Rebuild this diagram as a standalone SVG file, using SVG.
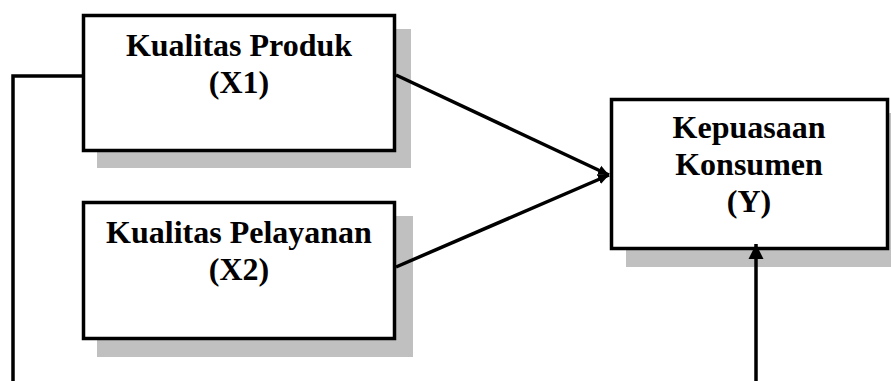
<svg xmlns="http://www.w3.org/2000/svg" width="891" height="381" viewBox="0 0 891 381">
<style>
.shadow{fill:#c0c0c0;stroke:none}
.box{fill:#ffffff;stroke:#000000;stroke-width:3.5}
.lbl{font-family:"Liberation Serif","Times New Roman",serif;font-weight:bold;font-size:32px;fill:#000000;text-anchor:middle}
.conn{fill:none;stroke:#000000;stroke-width:3.5}
</style>
<defs>
<marker id="arrowSmall" markerUnits="userSpaceOnUse" markerWidth="12" markerHeight="12" viewBox="0 0 12 12" refX="11" refY="6" orient="auto">
<path d="M0,1 L11,6 L0,11 Z" fill="#000000"/>
</marker>
<marker id="arrowBig" markerUnits="userSpaceOnUse" markerWidth="16" markerHeight="16" viewBox="0 0 16 16" refX="15" refY="8" orient="auto">
<path d="M0,0.5 L15,8 L0,15.5 Z" fill="#000000"/>
</marker>
</defs>
<g id="node-x1">
<rect class="shadow" x="97" y="29" width="314" height="139"/>
<rect class="box" x="83.5" y="15.5" width="311" height="135"/>
<text class="lbl" x="239" y="56">Kualitas Produk</text>
<text class="lbl" x="239" y="93">(X1)</text>
</g>
<g id="node-x2">
<rect class="shadow" x="97" y="216" width="316" height="141"/>
<rect class="box" x="83.5" y="202.5" width="311" height="136"/>
<text class="lbl" x="239" y="243">Kualitas Pelayanan</text>
<text class="lbl" x="239" y="280">(X2)</text>
</g>
<g id="node-y">
<rect class="shadow" x="626" y="113" width="270" height="154"/>
<rect class="box" x="611.5" y="99.5" width="276" height="149"/>
<text class="lbl" x="749" y="138">Kepuasaan</text>
<text class="lbl" x="749" y="175">Konsumen</text>
<text class="lbl" x="749" y="212">(Y)</text>
</g>
<g id="connectors">
<polyline class="conn" points="82,76 13,76 13,381"/>
<line class="conn" x1="396" y1="75" x2="609" y2="175" marker-end="url(#arrowSmall)"/>
<line class="conn" x1="396" y1="267" x2="609" y2="175" marker-end="url(#arrowSmall)"/>
<line class="conn" x1="756" y1="381" x2="756" y2="244" marker-end="url(#arrowBig)"/>
</g>
</svg>
